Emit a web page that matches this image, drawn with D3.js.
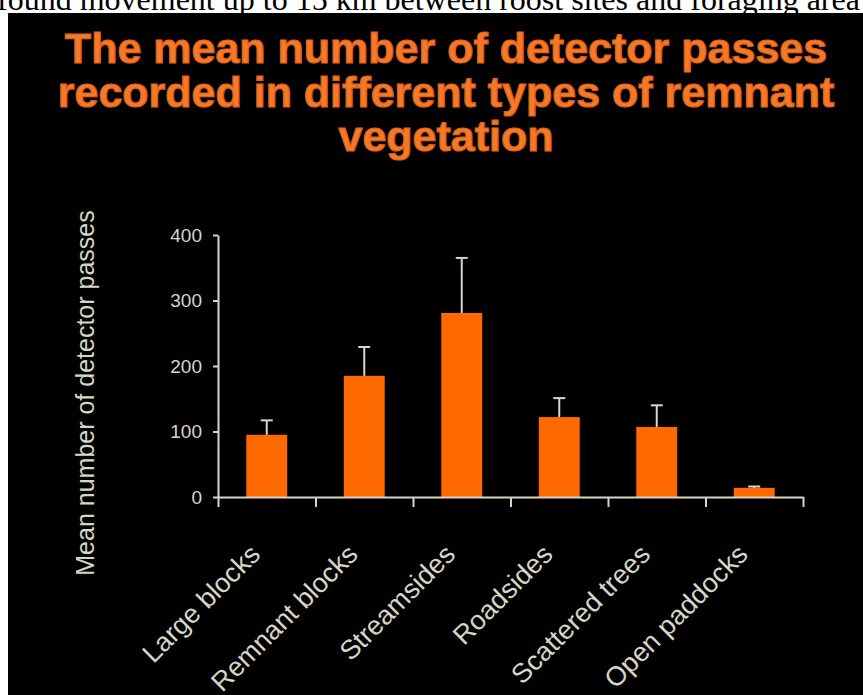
<!DOCTYPE html>
<html>
<head>
<meta charset="utf-8">
<script src="https://cdn.jsdelivr.net/npm/d3@7"></script>
<style>
  html, body { margin: 0; padding: 0; background: #fff; overflow: hidden; }
  svg { display: block; }
</style>
</head>
<body>
<div id="chart"></div>
<script>
// data
const categories = ["Large blocks", "Remnant blocks", "Streamsides", "Roadsides", "Scattered trees", "Open paddocks"];
const meanPasses = [95, 185, 281, 122, 107, 14];
const errorPasses = [22, 44, 84, 29, 33, 2];
const yTicks = [0, 100, 200, 300, 400];
const titleLines = ["The mean number of detector passes", "recorded in different types of remnant", "vegetation"];
const captionText = "found movement up to 15 km between roost sites and foraging area";

const width = 863;
const height = 695;
const orange = "#ff6a00";
const axisColor = "#d6d6c8";

const svg = d3.select("#chart")
  .append("svg")
  .attr("width", width)
  .attr("height", height);

// bit of the page text above the slide
svg.append("text")
  .attr("x", -3)
  .attr("y", 10)
  .style("font-family", "'Liberation Serif', 'Times New Roman', serif")
  .style("font-size", "32px")
  .style("fill", "#000")
  .text(captionText);

// the slide itself
svg.append("rect")
  .attr("x", 8)
  .attr("y", 13)
  .attr("width", width - 8)
  .attr("height", height - 13)
  .style("fill", "#000");

// title (slightly heavier than plain bold, like the slide)
svg.append("g")
  .selectAll("text")
  .data(titleLines)
  .enter()
  .append("text")
  .attr("x", 446)
  .attr("y", (d, i) => 63 + i * 44)
  .attr("text-anchor", "middle")
  .style("font-family", "'Liberation Sans', Arial, sans-serif")
  .style("font-weight", "bold")
  .style("font-size", "43px")
  .style("fill", "#f47a28")
  .style("stroke", "#e0601c")
  .style("stroke-width", 1.2)
  .text(d => d);

// scales
const xScale = d3.scaleBand()
  .domain(categories)
  .range([218, 803])
  .paddingInner(0.58)
  .paddingOuter(0.29);

const yScale = d3.scaleLinear()
  .domain([0, 400])
  .range([497, 235]);

const edgeScale = d3.scaleLinear()
  .domain([0, categories.length])
  .range([218, 803]);

// bars
svg.selectAll("rect.bar")
  .data(meanPasses)
  .enter()
  .append("rect")
  .attr("class", "bar")
  .attr("x", (d, i) => xScale(categories[i]))
  .attr("y", d => yScale(d))
  .attr("width", xScale.bandwidth())
  .attr("height", d => yScale(0) - yScale(d))
  .style("fill", orange);

// error bars (upper only)
const err = svg.append("g")
  .style("stroke", axisColor)
  .style("stroke-width", 2);

err.selectAll("line.stem")
  .data(meanPasses)
  .enter()
  .append("line")
  .attr("x1", (d, i) => xScale(categories[i]) + xScale.bandwidth() / 2)
  .attr("x2", (d, i) => xScale(categories[i]) + xScale.bandwidth() / 2)
  .attr("y1", d => yScale(d))
  .attr("y2", (d, i) => yScale(d + errorPasses[i]));

err.selectAll("line.cap")
  .data(meanPasses)
  .enter()
  .append("line")
  .attr("x1", (d, i) => xScale(categories[i]) + xScale.bandwidth() / 2 - 6)
  .attr("x2", (d, i) => xScale(categories[i]) + xScale.bandwidth() / 2 + 6)
  .attr("y1", (d, i) => yScale(d + errorPasses[i]))
  .attr("y2", (d, i) => yScale(d + errorPasses[i]));

// y axis
const yAxis = svg.append("g")
  .attr("transform", "translate(218,0)")
  .call(d3.axisLeft(yScale).tickValues(yTicks).tickSize(5).tickPadding(11).tickSizeOuter(0));

// x axis with ticks between categories
const xAxis = svg.append("g")
  .attr("transform", "translate(0,497)")
  .call(d3.axisBottom(edgeScale).tickValues(d3.range(categories.length + 1)).tickFormat("").tickSize(10).tickSizeOuter(0));

[yAxis, xAxis].forEach(g => {
  g.select(".domain").style("stroke", axisColor).style("stroke-width", 2);
  g.selectAll(".tick line").style("stroke", axisColor).style("stroke-width", 2);
});

yAxis.selectAll(".tick text")
  .style("font-family", "'Liberation Sans', Arial, sans-serif")
  .style("font-size", "19px")
  .style("fill", axisColor);

// category labels, slanted
svg.append("g")
  .selectAll("text")
  .data(categories)
  .enter()
  .append("text")
  .attr("text-anchor", "end")
  .attr("transform", d => "translate(" + (xScale(d) + xScale.bandwidth() / 2 - 5) + ",556) rotate(-45)")
  .style("font-family", "'Liberation Sans', Arial, sans-serif")
  .style("font-size", "27px")
  .style("fill", axisColor)
  .text(d => d);

// y axis title
svg.append("text")
  .attr("text-anchor", "middle")
  .attr("transform", "translate(94,393) rotate(-90)")
  .style("font-family", "'Liberation Sans', Arial, sans-serif")
  .style("font-size", "25px")
  .style("fill", axisColor)
  .text("Mean number of detector passes");
</script>
</body>
</html>
